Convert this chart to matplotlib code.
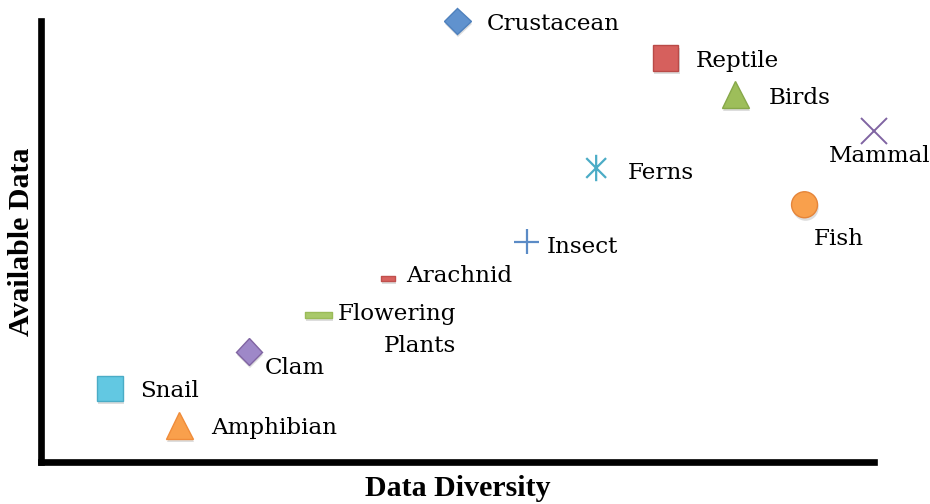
import matplotlib
matplotlib.use("Agg")
import matplotlib.pyplot as plt
from matplotlib.path import Path
import matplotlib.patheffects as pe

# ---- data ----
names = ["Snail", "Amphibian", "Clam", "Flowering\nPlants", "Arachnid", "Crustacean",
         "Insect", "Ferns", "Reptile", "Birds", "Fish", "Mammal"]
diversity = [1, 2, 3, 4, 5, 6, 7, 8, 9, 10, 11, 12]
available = [2, 1, 3, 4, 5, 12, 6, 8, 11, 10, 7, 9]

x_label = "Data Diversity"
y_label = "Available Data"

# ---- styles ----
rect_long = Path([(-1, -0.22), (1, -0.22), (1, 0.22), (-1, 0.22), (-1, -0.22)],
                 [Path.MOVETO, Path.LINETO, Path.LINETO, Path.LINETO, Path.CLOSEPOLY])
rect_short = Path([(-1, -0.38), (1, -0.38), (1, 0.38), (-1, 0.38), (-1, -0.38)],
                  [Path.MOVETO, Path.LINETO, Path.LINETO, Path.LINETO, Path.CLOSEPOLY])
asterisk = Path([(0, -1), (0, 1), (-0.75, -0.75), (0.75, 0.75), (-0.75, 0.75), (0.75, -0.75)],
                [Path.MOVETO, Path.LINETO, Path.MOVETO, Path.LINETO, Path.MOVETO, Path.LINETO])

styles = [
    dict(marker="s", ms=18.5, mfc="#62C8E2", mec="#4AACC6", mew=1.0),          # Snail
    dict(marker="^", ms=19.5, mfc="#F9A04C", mec="#F08C3A", mew=1.0),          # Amphibian
    dict(marker="D", ms=13.5, mfc="#9E88C8", mec="#8064A2", mew=1.0),          # Clam
    dict(marker=rect_long, ms=19, mfc="#A9C96A", mec="#9BBB59", mew=1.0),      # Flowering Plants
    dict(marker=rect_short, ms=10, mfc="#D8625F", mec="#C0504D", mew=1.0),     # Arachnid
    dict(marker="D", ms=13.5, mfc="#6092CE", mec="#4F81BD", mew=1.0),          # Crustacean
    dict(marker="+", ms=18, mfc="none", mec="#5B8BC6", mew=1.6),               # Insect
    dict(marker=asterisk, ms=19, mfc="none", mec="#4BACC6", mew=1.6),          # Ferns
    dict(marker="s", ms=18.5, mfc="#D6605D", mec="#B94A47", mew=1.0),          # Reptile
    dict(marker="^", ms=19.5, mfc="#9DBE5A", mec="#87A84A", mew=1.0),          # Birds
    dict(marker="o", ms=18.7, mfc="#F9A04C", mec="#E5853A", mew=1.0),          # Fish
    dict(marker="x", ms=18.5, mfc="none", mec="#8064A2", mew=1.4),             # Mammal
]

# label offsets in points and alignment
label_pos = [
    ((22, 0), "left", "center_baseline", "center"),     # Snail
    ((23, 0), "left", "center_baseline", "center"),     # Amphibian
    ((11.5, -10), "left", "center_baseline", "center"), # Clam
    ((14, 8.5), "left", "top", "right"),                # Flowering Plants
    ((13, 3.5), "left", "center_baseline", "center"),   # Arachnid
    ((21.5, -0.5), "left", "center_baseline", "center"),# Crustacean
    ((14.5, -2), "left", "center_baseline", "center"),  # Insect
    ((23, -2), "left", "center_baseline", "center"),    # Ferns
    ((22, -0.5), "left", "center_baseline", "center"),  # Reptile
    ((24, -0.5), "left", "center_baseline", "center"),  # Birds
    ((24.5, -23), "center", "center_baseline", "center"),  # Fish
    ((4, -16), "center", "center_baseline", "center"),     # Mammal
]

plt.rcParams["font.family"] = ["DejaVu Serif"]

fig = plt.figure(figsize=(9.3, 5.04), dpi=100)
W, H = 930, 504
ax = fig.add_axes([40.5 / W, (504 - 462) / H, (874 - 40.5) / W, (462 - 21) / H])
ax.set_xlim(0, 12)
ax.set_ylim(0, 12)
ax.set_xticks([])
ax.set_yticks([])
for s in ["top", "right"]:
    ax.spines[s].set_visible(False)
for s in ["left", "bottom"]:
    ax.spines[s].set_linewidth(4.8)
    ax.spines[s].set_color("black")
    ax.spines[s].set_capstyle("projecting")

shadow = [pe.SimplePatchShadow(offset=(0.8, -2.2), shadow_rgbFace="#7a7a7a", alpha=0.25), pe.Normal()]

for name, xv, yv, st, (off, ha, va, ma) in zip(names, diversity, available, styles, label_pos):
    ln, = ax.plot([xv], [yv], linestyle="none", clip_on=False, zorder=3, **st)
    ln.set_path_effects(shadow)
    ax.annotate(name, (xv, yv), xytext=off, textcoords="offset points",
                ha=ha, va=va, fontsize=16.6, color="black",
                multialignment=ma, linespacing=1.55, annotation_clip=False)

ax.set_xlabel(x_label, fontsize=21.5, fontweight="bold", family="Liberation Serif", labelpad=9)
ax.set_ylabel(y_label, fontsize=21.5, fontweight="bold", family="Liberation Serif", labelpad=4)

fig.savefig("out.png", dpi=100)
